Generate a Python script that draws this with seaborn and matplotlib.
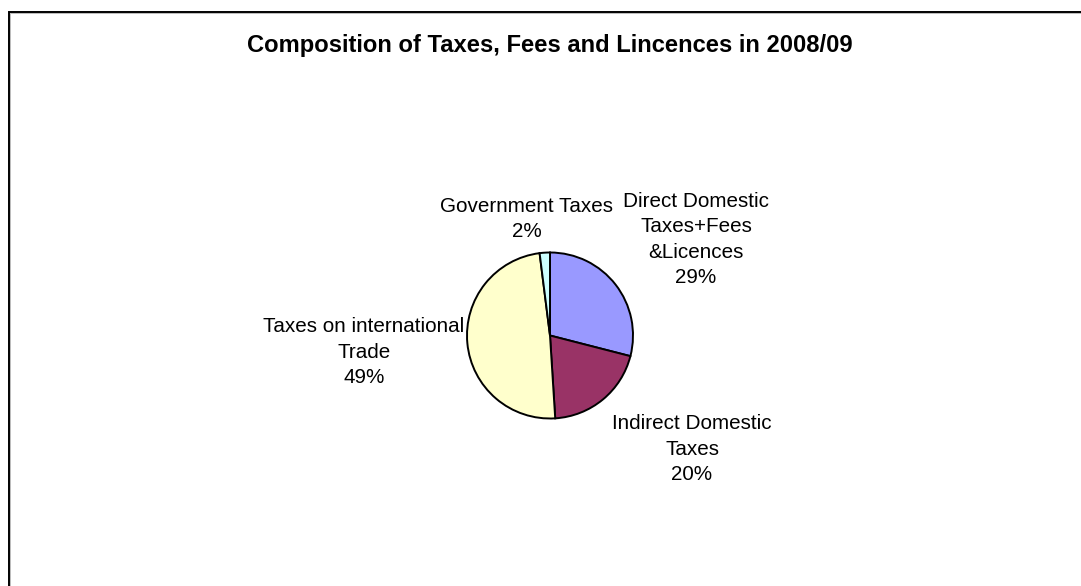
import matplotlib
matplotlib.use("Agg")
import matplotlib.pyplot as plt
import seaborn as sns

# Composition of taxes, fees and licences, 2008/09 (percent of total)
categories = [
    "Direct Domestic\nTaxes+Fees\n&Licences",
    "Indirect Domestic\nTaxes",
    "Taxes on international\nTrade",
    "Government Taxes",
]
shares = [29, 20, 49, 2]
slice_colors = ["#9999FF", "#993366", "#FFFFCC", "#CCFFFF"]
title = "Composition of Taxes, Fees and Lincences in 2008/09"

sns.set_theme(style="white")
plt.rcParams["font.family"] = ["Liberation Sans", "DejaVu Sans"]

W, H = 1081, 586
fig = plt.figure(figsize=(W / 100, H / 100), dpi=100)
fig.patch.set_facecolor("white")
ax = fig.add_axes([0, 0, 1, 1])

def py(y):
    # pixel rows measured from the top edge
    return H - y

# chart area border (runs off the right and bottom edges)
ax.plot([8.5, 8.5, W + 5], [-5, py(11.5), py(11.5)], color="black", lw=1.4,
        solid_joinstyle="miter", clip_on=False)
ax.plot([9.8, 9.8, W + 5], [-5, py(12.8), py(12.8)], color="#b0b0b0", lw=0.6,
        clip_on=False)

palette = sns.color_palette(slice_colors)
ax.pie(shares, colors=palette, startangle=90, counterclock=False,
       center=(550, py(335.5)), radius=83, frame=True,
       wedgeprops=dict(edgecolor="black", linewidth=1.4))
ax.set_xlim(0, W)
ax.set_ylim(0, H)
ax.set_aspect("equal")
ax.axis("off")

# label anchor: centre x and baseline of the last line (pixels from top)
label_pos = [(696, 283), (692, 480), (364, 383), (527, 237)]
for name, val, (x, y) in zip(categories, shares, label_pos):
    ax.text(x, py(y), f"{name}\n{val}%", ha="center", va="baseline",
            fontsize=14.9, color="black", linespacing=1.42,
            multialignment="center")

ax.text(550, py(52), title, ha="center", va="baseline", fontsize=17.15,
        fontweight="bold", color="black")

fig.savefig("out.png", dpi=100, facecolor="white")
